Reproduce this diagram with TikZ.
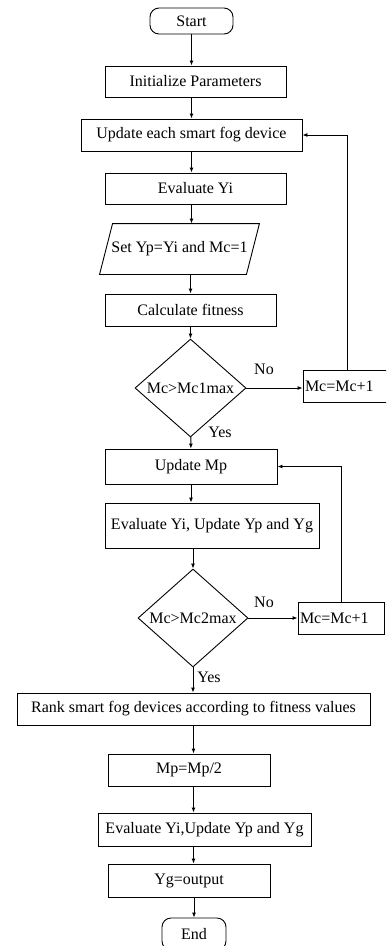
\documentclass[tikz,border=0pt]{standalone}
\usepackage{fontspec}
\setmainfont{Liberation Serif}
\usetikzlibrary{shapes.geometric,arrows.meta}

\begin{document}
\begin{tikzpicture}[x=1pt, y=-1pt, line width=0.9pt, >={Latex[length=5pt,width=4pt]},
	font=\fontsize{16}{19}\selectfont,
	box/.style = {draw, rectangle, inner sep=0pt},
	term/.style = {draw, rectangle, rounded corners=9pt, inner sep=0pt},
	dec/.style = {draw, diamond, inner sep=0pt, minimum width=111pt, minimum height=92pt},
	io/.style = {rectangle, inner sep=0pt},
	inc/.style = {draw, rectangle, text width=82pt, align=left, inner xsep=2pt, inner ysep=0pt, minimum height=32pt}]

		\useasboundingbox (0,0) rectangle (386,946);
		\clip (0,0) rectangle (386,946);

		\node[term, minimum width=83pt, minimum height=26pt] (start) at (191.5,21) {Start};
		\node[box, minimum width=181pt, minimum height=31pt] (init) at (195.5,81.5) {Initialize Parameters};
		\node[box, minimum width=221pt, minimum height=32pt] (update) at (191.5,135) {Update each smart fog device};
		\node[box, minimum width=181pt, minimum height=31pt] (evalyi) at (195.5,188.5) {Evaluate Yi};
		\node[io, minimum width=146pt, minimum height=50pt] (setyp) at (179.5,249) {Set Yp=Yi and Mc=1};
		\node[box, minimum width=171pt, minimum height=32pt] (calc) at (190.5,310) {Calculate fitness};
		\node[dec] (dec1) at (190.5,388) {Mc>Mc1max};
		\node[inc, text width=84pt] (inc1) at (347,386) {Mc=Mc+1};
		\node[box, minimum width=172pt, minimum height=35pt] (upmp) at (191,466.5) {Update Mp};
		\node[box, minimum width=214pt, minimum height=45pt] (eval2) at (212,525.5) {Evaluate Yi, Update Yp and Yg};
		\node[dec, minimum width=110pt] (dec2) at (193,618) {Mc>Mc2max};
		\node[inc] (inc2) at (341,618) {Mc=Mc+1};
		\node[box, minimum width=353pt, minimum height=32pt] (rank) at (193.5,709) {Rank smart fog devices according to fitness values};
		\node[box, minimum width=162pt, minimum height=32pt] (half) at (189,770) {Mp=Mp/2};
		\node[box, minimum width=213pt, minimum height=33pt] (eval3) at (204.5,829.5) {Evaluate Yi,Update Yp and Yg};
		\node[box, minimum width=162pt, minimum height=33pt] (ygout) at (189,880.5) {Yg=output};
		\node[term, minimum width=64pt, minimum height=32pt] (end) at (194,934) {End};

		% parallelogram round the input node
		\draw ([xshift=6.5pt]setyp.north west) -- ([xshift=6.5pt]setyp.north east)
			-- ([xshift=-6.5pt]setyp.south east) -- ([xshift=-6.5pt]setyp.south west) -- cycle;

		\node[] (no1) at (264,369) {No};
		\node[] (yes1) at (220,432) {Yes};
		\node[] (no2) at (264,602) {No};
		\node[] (yes2) at (209,677) {Yes};

		\draw[->] (start) -- (start |- init.north);
		\draw[->] (update |- init.south) -- (update);
		\draw[->] (update) -- (update |- evalyi.north);
		\draw[->] (update |- evalyi.south) -- (update |- setyp.north);
		\draw[->] (calc |- setyp.south) -- (calc);
		\draw[->] (calc) -- (dec1);
		\draw[->] (dec1) -- (dec1 -| inc1.west);
		\draw[->] (inc1) |- (update);
		\draw[->] (dec1) -- (upmp);
		\draw[->] (upmp) -- (upmp |- eval2.north);
		\draw[->] (dec2 |- eval2.south) -- (dec2);
		\draw[->] (dec2) -- (inc2);
		\draw[->] (inc2) |- (upmp);
		\draw[->] (dec2) -- (dec2 |- rank.north);
		\draw[->] (rank) -- (rank |- half.north);
		\draw[->] (rank |- half.south) -- (rank |- eval3.north);
		\draw[->] (rank |- eval3.south) -- (rank |- ygout.north);
		\draw[->] (end |- ygout.south) -- (end);
	\end{tikzpicture}
\end{document}
